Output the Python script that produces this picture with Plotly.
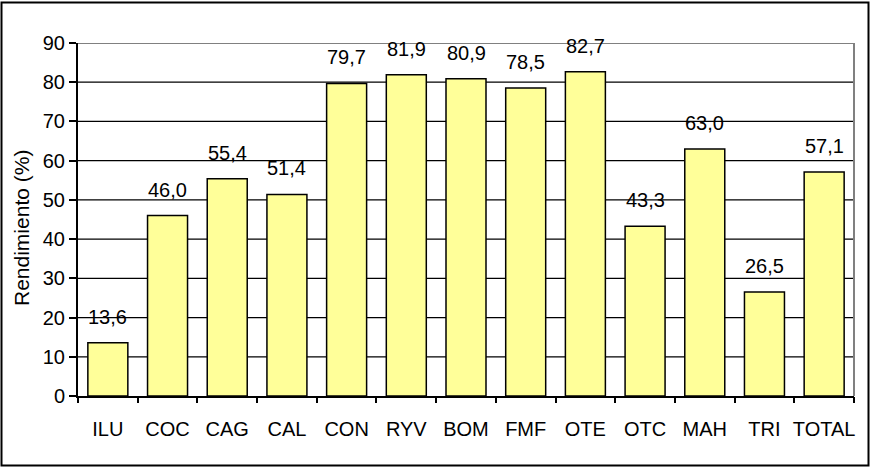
import plotly.graph_objects as go

categories = ["ILU", "COC", "CAG", "CAL", "CON", "RYV", "BOM", "FMF", "OTE", "OTC", "MAH", "TRI", "TOTAL"]
rendimiento = [13.6, 46.0, 55.4, 51.4, 79.7, 81.9, 80.9, 78.5, 82.7, 43.3, 63.0, 26.5, 57.1]
y_ticks = [0, 10, 20, 30, 40, 50, 60, 70, 80, 90]

FONT = "Liberation Sans, Arial, sans-serif"
FS = 20
W, H = 870, 469
L, R, T, B = 78, 16, 43, 73

pw, ph = W - L - R, H - T - B
def px(x):
    return (x - L) / pw
def py(y):
    return (H - B - y) / ph

fig = go.Figure()
fig.add_trace(go.Bar(
    x=list(range(len(categories))),
    y=rendimiento,
    width=0.67,
    marker=dict(color="#FFFF99", line=dict(color="black", width=1.5)),
    hoverinfo="skip",
))

# value labels above each bar (decimal comma)
for i, v in enumerate(rendimiento):
    fig.add_annotation(
        x=i, y=v, text=f"{v:.1f}".replace(".", ","),
        showarrow=False, yanchor="middle", yshift=26,
        font=dict(family=FONT, size=FS, color="black"),
    )

# y-axis title
fig.add_annotation(
    xref="paper", yref="paper", x=px(21), y=py(228),
    text="Rendimiento (%)", textangle=-90, showarrow=False,
    xanchor="center", yanchor="middle",
    font=dict(family=FONT, size=21, color="black"),
)

# gridlines drawn as shapes below the bars
for t in y_ticks[1:-1]:
    fig.add_shape(type="line", xref="paper", yref="y", x0=0, x1=1, y0=t, y1=t,
                  line=dict(color="black", width=1.2), layer="below")
# plot-area top and right edges (grey)
fig.add_shape(type="line", xref="paper", yref="y", x0=0, x1=1, y0=90, y1=90,
              line=dict(color="#808080", width=2), layer="below")
fig.add_shape(type="line", xref="paper", yref="paper", x0=1, x1=1, y0=0, y1=1,
              line=dict(color="#808080", width=2), layer="below")

# outer chart frame
fig.add_shape(type="rect", xref="paper", yref="paper",
              x0=px(1.5), x1=px(868.5), y0=py(465.5), y1=py(2.5),
              line=dict(color="black", width=2), fillcolor="rgba(0,0,0,0)")

fig.update_layout(
    width=W, height=H,
    margin=dict(l=L, r=R, t=T, b=B),
    paper_bgcolor="white", plot_bgcolor="white",
    showlegend=False,
    font=dict(family=FONT, size=FS, color="black"),
    xaxis=dict(
        range=[-0.5, len(categories) - 0.5],
        tickmode="array",
        tickvals=list(range(len(categories))),
        ticktext=categories,
        showline=True, linecolor="black", linewidth=2,
        ticks="", showgrid=False, zeroline=False,
        tickfont=dict(family=FONT, size=FS),
        ticklabelstandoff=14,
        fixedrange=True,
    ),
    xaxis2=dict(
        overlaying="x", range=[-0.5, len(categories) - 0.5],
        tickmode="array", tickvals=[i - 0.5 for i in range(len(categories) + 1)],
        ticks="outside", ticklen=6, tickwidth=2, tickcolor="black",
        showticklabels=False, showgrid=False, zeroline=False, showline=False,
        side="bottom", anchor="y",
    ),
    yaxis=dict(
        range=[0, 90],
        tickmode="array", tickvals=y_ticks,
        ticks="outside", ticklen=7, tickwidth=1.5, tickcolor="black",
        showline=True, linecolor="black", linewidth=2,
        showgrid=False, zeroline=False,
        tickfont=dict(family=FONT, size=FS),
        fixedrange=True,
    ),
)
# invisible trace so the secondary x axis (category ticks) is drawn
fig.add_trace(go.Scatter(x=[0], y=[0], xaxis="x2", mode="markers",
                         marker=dict(opacity=0), hoverinfo="skip"))

fig.write_html("out.html")
